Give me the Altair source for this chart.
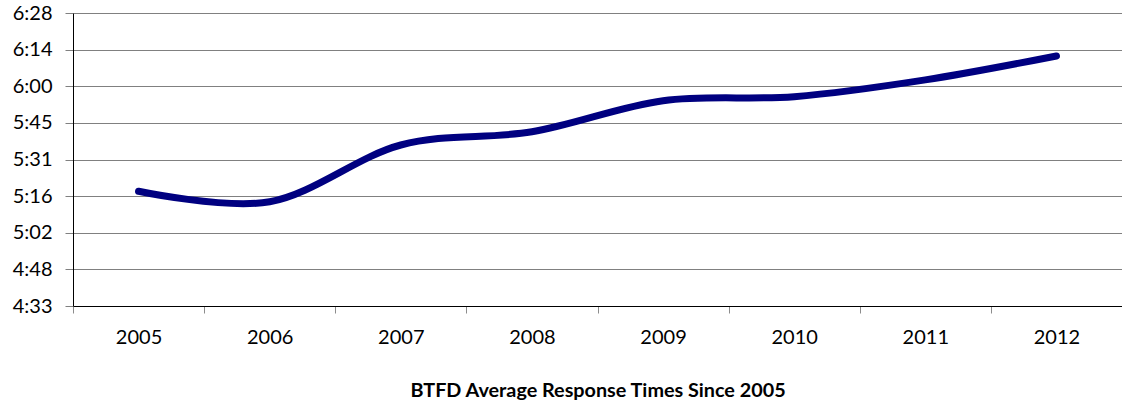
import altair as alt
import pandas as pd

years = ["2005", "2006", "2007", "2008", "2009", "2010", "2011", "2012"]
seconds = [318.7, 314.6, 336.9, 342.1, 354.3, 355.9, 362.5, 371.9]
y_ticks = [273.6, 288.0, 302.4, 316.8, 331.2, 345.6, 360.0, 374.4, 388.8]
title_text = "BTFD Average Response Times Since 2005"

df = pd.DataFrame({"year": years, "sec": seconds})

lab = ("floor((datum.value+0.001)/60) + ':' + "
       "(floor(datum.value+0.001)%60 < 10 ? '0' : '') + floor(datum.value+0.001)%60")

chart = alt.Chart(df).mark_line(
    color="#000080", strokeWidth=7, strokeCap="round",
    interpolate="cardinal", tension=0
).encode(
    x=alt.X("year:O", bandPosition=0.5,
            scale=alt.Scale(type="band", paddingInner=0, paddingOuter=0),
            axis=alt.Axis(title=title_text, labelAngle=0, tickBand="extent", grid=False,
                          domainColor="black", tickColor="#8c8c8c", tickSize=7,
                          labelPadding=14, labelFont="Lato", labelFontSize=20,
                          labelColor="black", labelFontWeight="normal",
                          titleFont="Lato", titleFontSize=19.8, titleFontWeight="bold",
                          titlePadding=33, titleColor="black")),
    y=alt.Y("sec:Q", scale=alt.Scale(domain=[273.6, 388.8], nice=False, zero=False),
            axis=alt.Axis(title=None, values=y_ticks, labelExpr=lab, grid=True,
                          gridColor="#808080", domainColor="black", tickColor="#808080",
                          tickSize=8, labelPadding=13, labelFont="Lato", labelFontSize=20,
                          labelColor="black", labelFlush=False, labelOverlap=False))
).properties(
    width=1049, height=293,
    autosize=alt.AutoSizeParams(type="none"),
    padding={"left": 73, "top": 13, "right": 0, "bottom": 100},
    background="white"
).configure_view(stroke="transparent")

chart.save("out.html", embed_options={"renderer": "svg", "actions": False})
